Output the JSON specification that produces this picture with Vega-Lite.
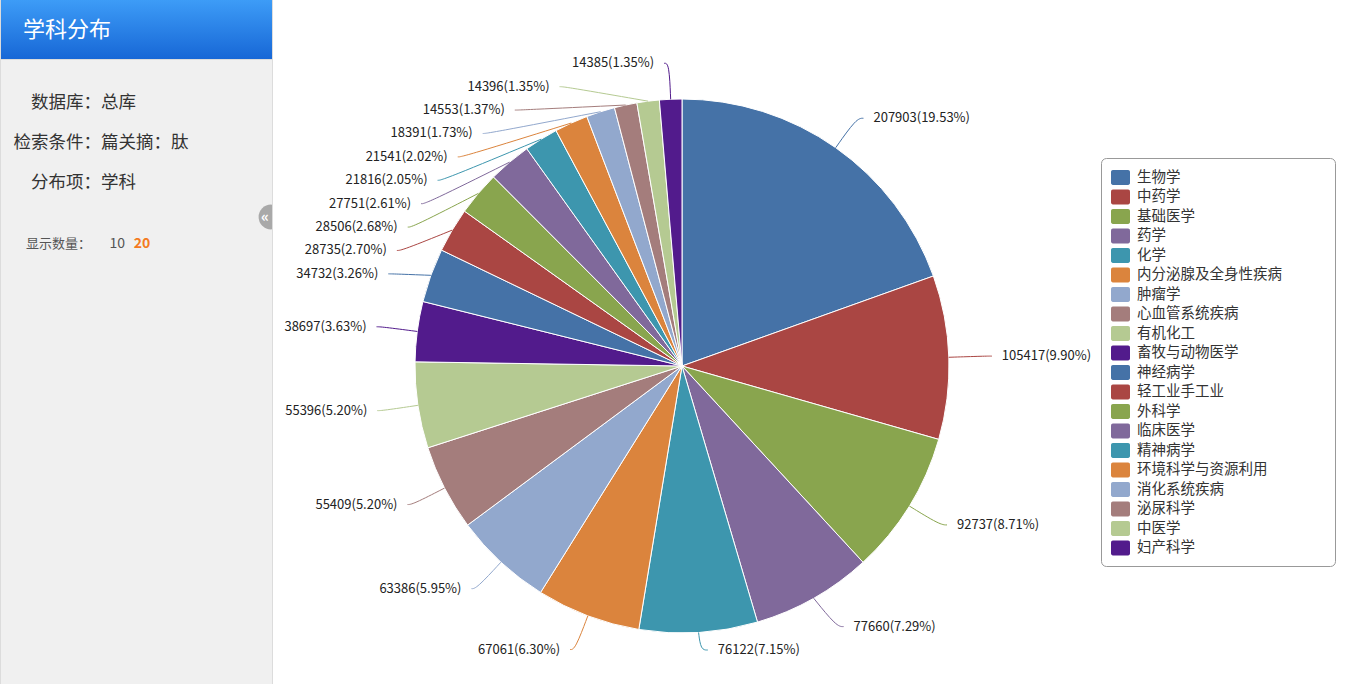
{
  "$schema": "https://vega.github.io/schema/vega-lite/v6.json",
  "padding": 0,
  "spacing": 1,
  "background": "#dcdcdc",
  "config": {"view": {"stroke": null}, "font": "Noto Sans CJK SC"},
  "hconcat": [
    {
      "spacing": 0,
      "vconcat": [
        {
          "width": 271,
          "height": 59,
          "view": {"fill": "#2680e8"},
          "data": {"values": [{"title": "学科分布"}]},
          "layer": [
            {"mark": {"type": "rect", "color": {"gradient": "linear", "x1": 0, "y1": 0, "x2": 0, "y2": 1, "stops": [{"offset": 0, "color": "#3d9cf7"}, {"offset": 1, "color": "#1767d6"}]}}},
            {"mark": {"type": "text", "align": "left", "baseline": "middle", "dx": -113.5, "dy": 0.5, "fontSize": 22, "color": "#ffffff"}, "encoding": {"text": {"field": "title"}}}
          ]
        },
        {
          "width": 271,
          "height": 625,
          "view": {"fill": "#f0f0f0"},
          "data": {"values": [{"db": "数据库：总库", "cond": "检索条件：篇关摘：肽", "item": "分布项：学科", "count": "显示数量：", "n10": "10", "n20": "20", "btn": "«"}]},
          "layer": [
            {"mark": {"type": "rule", "x": 12, "x2": 262, "y": 156.5, "color": "#d8d8d8", "strokeWidth": 1.5}, "encoding": {}},
            {"mark": {"type": "circle", "x": 270, "y": 157, "size": 615, "color": "#a9a9a9", "opacity": 1, "clip": true}},
            {"mark": {"type": "text", "x": 264, "y": 157, "align": "center", "baseline": "middle", "fontSize": 15, "fontWeight": "bold", "color": "#ffffff"}, "encoding": {"text": {"field": "btn"}}},
            {"mark": {"type": "text", "align": "left", "baseline": "middle", "dx": -105.5, "dy": -270, "fontSize": 17.5, "color": "#333333"}, "encoding": {"text": {"field": "db"}}},
            {"mark": {"type": "text", "align": "left", "baseline": "middle", "dx": -123, "dy": -229.5, "fontSize": 17.5, "color": "#333333"}, "encoding": {"text": {"field": "cond"}}},
            {"mark": {"type": "text", "align": "left", "baseline": "middle", "dx": -105.5, "dy": -189.5, "fontSize": 17.5, "color": "#333333"}, "encoding": {"text": {"field": "item"}}},
            {"mark": {"type": "text", "align": "left", "baseline": "middle", "dx": -110.5, "dy": -128.5, "fontSize": 13, "color": "#555555"}, "encoding": {"text": {"field": "count"}}},
            {"mark": {"type": "text", "align": "left", "baseline": "middle", "dx": -27, "dy": -128.5, "fontSize": 14, "color": "#555555"}, "encoding": {"text": {"field": "n10"}}},
            {"mark": {"type": "text", "align": "left", "baseline": "middle", "dx": -2.8, "dy": -128.5, "fontSize": 14, "fontWeight": "bold", "color": "#f47a20"}, "encoding": {"text": {"field": "n20"}}}
          ]
        }
      ]
    },
    {
      "width": 1075,
      "height": 684,
      "view": {"fill": "#ffffff"},
      "data": {"values": [
        {"name": "生物学", "value": 207903, "pct": 19.53},
        {"name": "中药学", "value": 105417, "pct": 9.90},
        {"name": "基础医学", "value": 92737, "pct": 8.71},
        {"name": "药学", "value": 77660, "pct": 7.29},
        {"name": "化学", "value": 76122, "pct": 7.15},
        {"name": "内分泌腺及全身性疾病", "value": 67061, "pct": 6.30},
        {"name": "肿瘤学", "value": 63386, "pct": 5.95},
        {"name": "心血管系统疾病", "value": 55409, "pct": 5.20},
        {"name": "有机化工", "value": 55396, "pct": 5.20},
        {"name": "畜牧与动物医学", "value": 38697, "pct": 3.63},
        {"name": "神经病学", "value": 34732, "pct": 3.26},
        {"name": "轻工业手工业", "value": 28735, "pct": 2.70},
        {"name": "外科学", "value": 28506, "pct": 2.68},
        {"name": "临床医学", "value": 27751, "pct": 2.61},
        {"name": "精神病学", "value": 21816, "pct": 2.05},
        {"name": "环境科学与资源利用", "value": 21541, "pct": 2.02},
        {"name": "消化系统疾病", "value": 18391, "pct": 1.73},
        {"name": "泌尿科学", "value": 14553, "pct": 1.37},
        {"name": "中医学", "value": 14396, "pct": 1.35},
        {"name": "妇产科学", "value": 14385, "pct": 1.35}
      ]},
      "transform": [
        {"joinaggregate": [{"op": "sum", "field": "value", "as": "total"}]},
        {"window": [{"op": "sum", "field": "value", "as": "cum"}], "sort": [{"field": "value", "order": "descending"}], "frame": [null, 0]},
        {"calculate": "(datum.cum - datum.value / 2) / datum.total * 2 * PI", "as": "a"},
        {"calculate": "datum.a < PI ? 'R' : 'L'", "as": "side"},
        {"calculate": "min(-303 * cos(datum.a), 284)", "as": "c"},
        {"window": [{"op": "row_number", "as": "i"}], "groupby": ["side"], "sort": [{"field": "a", "order": "descending"}]},
        {"calculate": "datum.side === 'R' ? datum.c + 23.4 * datum.i : datum.c - 23.4 * datum.i", "as": "t"},
        {"window": [{"op": "min", "field": "t", "as": "tmin"}, {"op": "max", "field": "t", "as": "tmax"}], "groupby": ["side"], "sort": [{"field": "a", "order": "descending"}], "frame": [null, 0]},
        {"calculate": "datum.side === 'R' ? datum.tmin - 23.4 * datum.i : datum.tmax + 23.4 * datum.i", "as": "ly"},
        {"calculate": "abs(datum.ly - datum.c) < 0.01 ? 303 * sin(datum.a) : (datum.side === 'R' ? 1 : -1) * sqrt(max(303 * 303 - datum.ly * datum.ly, 0))", "as": "lx"},
        {"calculate": "267 * sin(datum.a)", "as": "ex"},
        {"calculate": "-267 * cos(datum.a)", "as": "ey"},
        {"calculate": "datum.lx + (datum.side === 'R' ? 7 : -5)", "as": "px2"},
        {"calculate": "datum.lx + (datum.side === 'R' ? 17 : -15)", "as": "tx"},
        {"calculate": "datum.value + '(' + format(datum.pct, '.2f') + '%)'", "as": "label"}
      ],
      "layer": [
        {
          "mark": {"type": "arc", "outerRadius": 267, "stroke": "#ffffff", "strokeWidth": 1},
          "encoding": {
            "theta": {"field": "value", "type": "quantitative", "stack": true},
            "order": {"field": "value", "sort": "descending"},
            "x": {"datum": 0, "type": "quantitative", "scale": {"domain": [-409, 666], "nice": false, "zero": false}, "axis": null},
            "y": {"datum": 0, "type": "quantitative", "scale": {"domain": [-366, 318], "nice": false, "zero": false, "reverse": true}, "axis": null},
            "color": {
              "field": "name",
              "type": "nominal",
              "scale": {
                "domain": ["生物学", "中药学", "基础医学", "药学", "化学", "内分泌腺及全身性疾病", "肿瘤学", "心血管系统疾病", "有机化工", "畜牧与动物医学", "神经病学", "轻工业手工业", "外科学", "临床医学", "精神病学", "环境科学与资源利用", "消化系统疾病", "泌尿科学", "中医学", "妇产科学"],
                "range": ["#4572A7", "#AA4643", "#89A54E", "#80699B", "#3D96AE", "#DB843D", "#92A8CD", "#A47D7C", "#B5CA92", "#521B8C", "#4572A7", "#AA4643", "#89A54E", "#80699B", "#3D96AE", "#DB843D", "#92A8CD", "#A47D7C", "#B5CA92", "#521B8C"]
              },
              "legend": {
                "orient": "none",
                "legendX": 1100,
                "legendY": 158,
                "title": "\u2800\u2800\u2800",
                "titleOrient": "right",
                "titleFontSize": 14.5,
                "titlePadding": 10,
                "titleColor": "#ffffff",
                "strokeColor": "#999999",
                "fillColor": "#ffffff",
                "cornerRadius": 5,
                "padding": 10,
                "symbolType": "M-0.8,-0.78H0.8A0.2,0.2,0,0,1,1,-0.58V0.58A0.2,0.2,0,0,1,0.8,0.78H-0.8A0.2,0.2,0,0,1,-1,0.58V-0.58A0.2,0.2,0,0,1,-0.8,-0.78Z",
                "symbolSize": 361,
                "symbolStrokeWidth": 0,
                "symbolOpacity": 1,
                "labelFont": "Noto Sans CJK SC",
                "labelFontSize": 14.5,
                "labelColor": "#333333",
                "labelOffset": 7,
                "labelLimit": 300,
                "rowPadding": 2.5
              }
            }
          }
        },
        {
          "transform": [
            {"fold": ["ex", "lx", "px2"], "as": ["k", "xv"]},
            {"calculate": "datum.k === 'ex' ? datum.ey : datum.ly", "as": "yv"},
            {"calculate": "datum.k === 'ex' ? 0 : (datum.k === 'lx' ? 1 : 2)", "as": "ord"}
          ],
          "mark": {"type": "line", "interpolate": "basis", "strokeWidth": 1},
          "encoding": {
            "x": {"field": "xv", "type": "quantitative"},
            "y": {"field": "yv", "type": "quantitative"},
            "detail": {"field": "name"},
            "order": {"field": "ord"},
            "color": {"field": "name", "type": "nominal", "legend": null}
          }
        },
        {
          "transform": [{"filter": "datum.side === 'R'"}],
          "mark": {"type": "text", "align": "left", "baseline": "middle", "fontSize": 13, "color": "#222222"},
          "encoding": {
            "x": {"field": "tx", "type": "quantitative"},
            "y": {"field": "ly", "type": "quantitative"},
            "text": {"field": "label"}
          }
        },
        {
          "transform": [{"filter": "datum.side === 'L'"}],
          "mark": {"type": "text", "align": "right", "baseline": "middle", "fontSize": 13, "color": "#222222"},
          "encoding": {
            "x": {"field": "tx", "type": "quantitative"},
            "y": {"field": "ly", "type": "quantitative"},
            "text": {"field": "label"}
          }
        }
      ]
    }
  ]
}
